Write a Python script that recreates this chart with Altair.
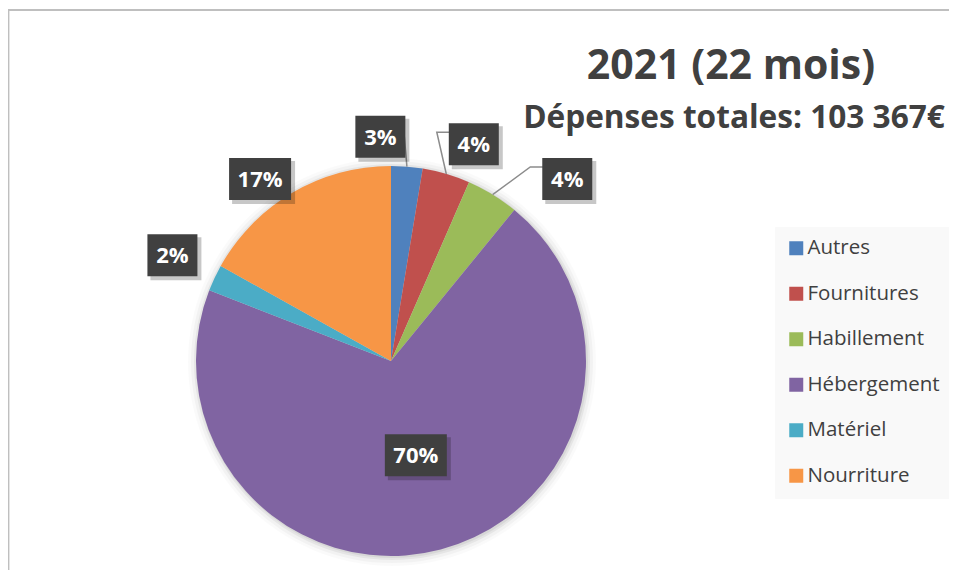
import math
import altair as alt
import numpy as np
import pandas as pd

# ---------------- data ----------------
categories = ["Autres", "Fournitures", "Habillement", "Hébergement", "Matériel", "Nourriture"]
amounts = [2688, 4083, 4497, 72357, 2274, 17468]          # € (total 103 367)
colors = ["#4F81BD", "#C0504D", "#9BBB59", "#8064A2", "#4BACC6", "#F79646"]
title_text = "2021 (22 mois)"
subtitle_text = "Dépenses totales: 103 367€"

# ---------------- layout (page pixels) ----------------
W, H = 941, 562
CX, CY, R = 391, 361, 195
LABEL_R = 225
inside = {"Hébergement"}
nudge = {"Autres": (-29, 0), "Fournitures": (19, -1), "Habillement": (59, 10),
         "Hébergement": (0, 0), "Matériel": (-15, -10), "Nourriture": (-17, 12)}
leaders = {"Autres", "Fournitures", "Habillement"}
FONT = "Open Sans"
TXT = "#404040"

total = sum(amounts)
frac = np.array(amounts) / total
cum = np.cumsum(frac)
mid = (cum - frac / 2) * 2 * np.pi

df = pd.DataFrame({"cat": categories, "amount": amounts, "idx": range(len(categories))})

lab_rows, line_rows = [], []
for i, c in enumerate(categories):
    a = mid[i]
    r = 0.5 * R if c in inside else LABEL_R
    bx = CX + r * math.sin(a) + nudge[c][0]
    by = CY - r * math.cos(a) + nudge[c][1]
    txt = f"{round(frac[i] * 100)}%"
    w, h = 26 + 12 * len(txt), 42
    lab_rows.append(dict(cat=c, txt=txt, cx=bx, cy=by, x1=bx - w / 2, x2=bx + w / 2,
                         y1=by - h / 2, y2=by + h / 2,
                         sx1=bx - w / 2 + 3, sx2=bx + w / 2 + 4, sy1=by - h / 2 + 3, sy2=by + h / 2 + 4))
    if c in leaders:
        ax, ay = CX + R * math.sin(a), CY - R * math.cos(a)
        if ax < bx - w / 2:
            pts = [(ax, ay), (bx - w / 2 - 12, by - 12), (bx, by - 12)]
        else:
            pts = [(ax, ay), (min(max(ax, bx - w / 2 + 4), bx + w / 2 - 1), by)]
        for k, (px, py) in enumerate(pts):
            line_rows.append(dict(cat=c, k=k, px=px, py=py))

labels = pd.DataFrame(lab_rows)
lines = pd.DataFrame(line_rows)

xs = alt.Scale(domain=[8, 8 + W], nice=False, zero=False)
ys = alt.Scale(domain=[8, 8 + H], nice=False, zero=False, reverse=True)

one = pd.DataFrame({"t": [""]})

shadow_layers = [
    alt.Chart(one).mark_arc(theta=0, theta2=2 * math.pi, radius=R + k, color="#000000", opacity=op)
    .encode(x=alt.value(CX - 8 + 1), y=alt.value(CY - 8 + 1))
    for k, op in [(9, 0.02), (6, 0.03), (3, 0.05), (1, 0.06)]
]

pie = alt.Chart(df).mark_arc(radius=R, stroke=None).encode(
    theta=alt.Theta("amount:Q", stack=True),
    order=alt.Order("idx:Q", sort="ascending"),
    color=alt.Color("cat:N", scale=alt.Scale(domain=categories, range=colors),
                    legend=alt.Legend(orient="none", legendX=767, legendY=219, title=None,
                                      symbolType="square", symbolSize=196, symbolStrokeWidth=0,
                                      labelFont=FONT, labelFontSize=20.5, labelColor=TXT,
                                      labelOffset=1, rowPadding=24.5, padding=11,
                                      fillColor="#f9f9f9", strokeColor="#f9f9f9")),
    x=alt.value(CX - 8), y=alt.value(CY - 8),
)

leader = alt.Chart(lines).mark_line(color="#8c8c8c", strokeWidth=1.5).encode(
    x=alt.X("px:Q", scale=xs, axis=None), y=alt.Y("py:Q", scale=ys, axis=None),
    detail="cat:N", order="k:Q")

box_shadow = alt.Chart(labels).mark_rect(color="#000000", opacity=0.22).encode(
    x=alt.X("sx1:Q", scale=xs, axis=None), x2="sx2:Q",
    y=alt.Y("sy1:Q", scale=ys, axis=None), y2="sy2:Q")

boxes = alt.Chart(labels).mark_rect(color="#404040").encode(
    x=alt.X("x1:Q", scale=xs, axis=None), x2="x2:Q",
    y=alt.Y("y1:Q", scale=ys, axis=None), y2="y2:Q")

box_text = alt.Chart(labels).mark_text(font=FONT, fontWeight="bold", fontSize=22, color="#ffffff",
                                       align="center", baseline="middle", dy=1).encode(
    x=alt.X("cx:Q", scale=xs, axis=None), y=alt.Y("cy:Q", scale=ys, axis=None), text="txt:N")

title = alt.Chart(pd.DataFrame({"t": [title_text]})).mark_text(
    font=FONT, fontWeight="bold", fontSize=41, color=TXT, align="center", baseline="alphabetic"
).encode(x=alt.value(731 - 8), y=alt.value(79 - 8), text="t:N")

subtitle = alt.Chart(pd.DataFrame({"t": [subtitle_text]})).mark_text(
    font=FONT, fontWeight="bold", fontSize=31.6, color=TXT, align="center", baseline="alphabetic"
).encode(x=alt.value(734 - 8), y=alt.value(128 - 8), text="t:N")

border_top = alt.Chart(one).mark_rule(color="#bfbfbf", strokeWidth=2).encode(
    x=alt.value(0), x2=alt.value(W), y=alt.value(2))
border_left = alt.Chart(one).mark_rule(color="#bfbfbf", strokeWidth=1.6).encode(
    x=alt.value(0.6), y=alt.value(1), y2=alt.value(H))

chart = alt.layer(
    border_top, border_left, *shadow_layers, pie, leader, box_shadow, boxes, box_text, title, subtitle
).resolve_scale(x="shared", y="shared").properties(
    width=W, height=H, autosize="none", padding=0, background="#ffffff"
).configure_view(stroke=None)

chart.save("out.html", embed_options={"renderer": "svg", "actions": False})
